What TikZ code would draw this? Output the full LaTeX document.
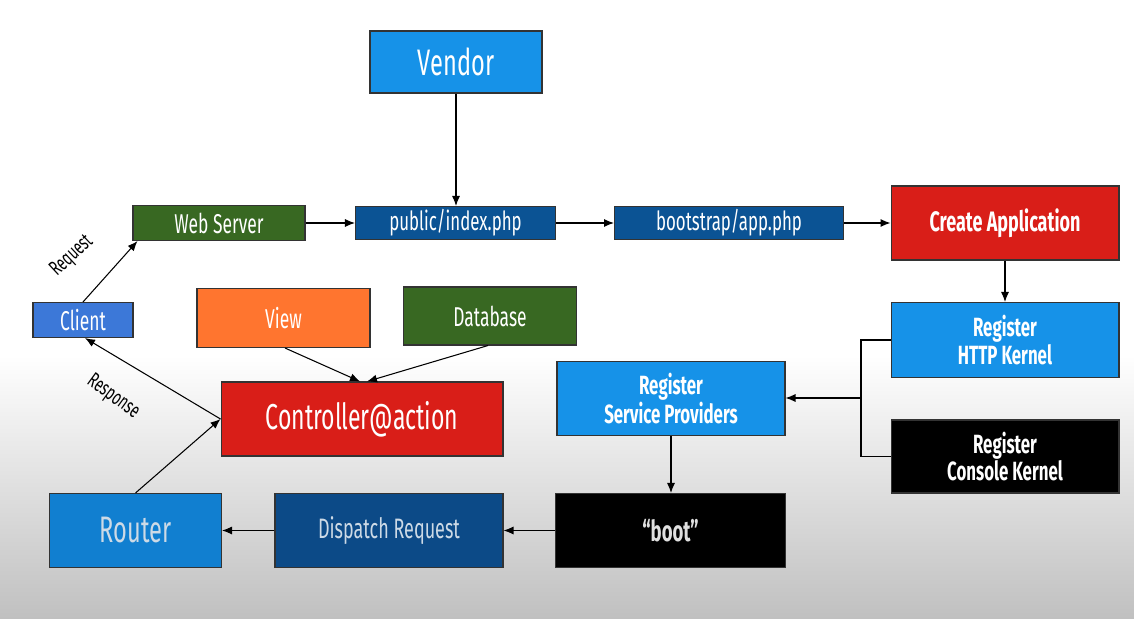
\documentclass[tikz,border=0pt]{standalone}
\usepackage{fontspec}
\setmainfont[FakeStretch=0.64]{Fira Sans}
\usetikzlibrary{arrows.meta}
\definecolor{lblue}{RGB}{22,146,232}
\definecolor{cblue}{RGB}{60,120,216}
\definecolor{dblue}{RGB}{11,83,148}
\definecolor{dispblue}{RGB}{12,74,135}
\definecolor{rblue}{RGB}{17,127,208}
\definecolor{dgreen}{RGB}{56,104,34}
\definecolor{bred}{RGB}{217,30,24}
\definecolor{borange}{RGB}{255,117,47}
\definecolor{bggrey}{RGB}{192,192,192}
\definecolor{pale}{RGB}{205,218,230}

\begin{document}
\begin{tikzpicture}[x=0.02cm,y=-0.02cm,line width=0.6pt,
  >={Latex[length=2mm,width=1.6mm]},
  box/.style={draw=black!80,line width=0.6pt,text=white,inner sep=0pt,minimum width=3.44cm},
  tall/.style={minimum height=1.48cm},
  wide/.style={minimum width=4.56cm},
  reg/.style={font=\fontsize{15.5}{17}\selectfont},
  heavy/.style={font=\bfseries\fontsize{15}{14.5}\selectfont,align=center},
  lbl/.style={font=\fontsize{12}{13}\selectfont,inner sep=0pt}]
% background
\fill [white] (0,0) rectangle (1134,619);
\shade [top color=white,bottom color=bggrey] (0,355) rectangle (1134,619);
% top row
\node [box,fill=lblue,minimum height=1.24cm,font=\fontsize{21}{24}\selectfont] (vendor) at (456,62) {Vendor};
\node [box,fill=dgreen,minimum height=0.70cm,reg] (web) at (219,223) {Web Server};
\node [box,fill=dblue,minimum width=4.0cm,minimum height=0.66cm,font=\fontsize{15}{16}\selectfont] (index) at (455.5,223) {public/index.php};
\node [box,fill=dblue,minimum width=4.58cm,minimum height=0.66cm,font=\fontsize{15}{16}\selectfont] (bootstrap) at (729,223) {bootstrap/app.php};
\node [box,fill=bred,wide,tall,font=\bfseries\fontsize{16}{18}\selectfont] (create) at (1005,223) {Create Application};
% middle
\node [box,fill=cblue,minimum width=2cm,minimum height=0.70cm,reg] (client) at (83,320) {Client};
\node [box,fill=borange,minimum width=3.46cm,minimum height=1.18cm,reg] (view) at (283.5,318) {View};
\node [box,fill=dgreen,minimum width=3.46cm,minimum height=1.16cm,reg] (db) at (490,316) {Database};
\node [box,fill=bred,minimum width=5.64cm,tall,font=\fontsize{20.5}{23}\selectfont] (ctrl) at (362,419) {Controller@action};
\node [box,fill=lblue,wide,minimum height=1.50cm,heavy] (http) at (1005,340) {Register\\HTTP Kernel};
\node [box,fill=lblue,wide,minimum height=1.48cm,heavy] (providers) at (671,398.5) {Register\\Service Providers};
\node [box,fill=black,wide,minimum height=1.46cm,heavy] (console) at (1005,456.5) {Register\\Console Kernel};
% bottom row
\node [box,fill=black,minimum width=4.6cm,tall,text=black!12,font=\bfseries\fontsize{16.5}{18}\selectfont] (boot) at (670.5,530.5) {“boot”};
\node [box,fill=dispblue,wide,tall,text=pale,font=\fontsize{16}{18}\selectfont] (dispatch) at (389,530.5) {Dispatch Request};
\node [box,fill=rblue,tall,text=pale,font=\fontsize{21}{24}\selectfont] (router) at (135.5,530.5) {Router};
\coordinate (fork) at (861,398);
% connectors
\draw [->] (vendor.south) -- (vendor.south |- index.north);
\draw [->] (web) -- (index);
\draw [->] (index) -- (bootstrap);
\draw [->] (bootstrap) -- (create);
\draw [->] (create) -- (http);
\draw (http.west) -| (fork) |- (console.west);
\draw [->] (fork) -- (fork -| providers.east);
\draw [->] (providers.south) -- (providers.south |- boot.north);
\draw [->] (boot) -- (dispatch);
\draw [->] (dispatch) -- (router);
\draw [->] (router.north) -- (ctrl.west);
\draw [->] (ctrl.west) -- ([xshift=0.04cm]client.south);
\draw [->] (client.north) -- ([xshift=0.1cm]web.south west);
\draw [->] ([xshift=0.03cm]view.south) -- ([xshift=-0.04cm]ctrl.north);
\draw [->] ([xshift=-0.04cm]db.south) -- ([xshift=0.1cm]ctrl.north);
\node [lbl,rotate=43] (req) at (72,256) {Request};
\node [lbl,rotate=-36] (resp) at (113,397) {Response};
\end{tikzpicture}
\end{document}
